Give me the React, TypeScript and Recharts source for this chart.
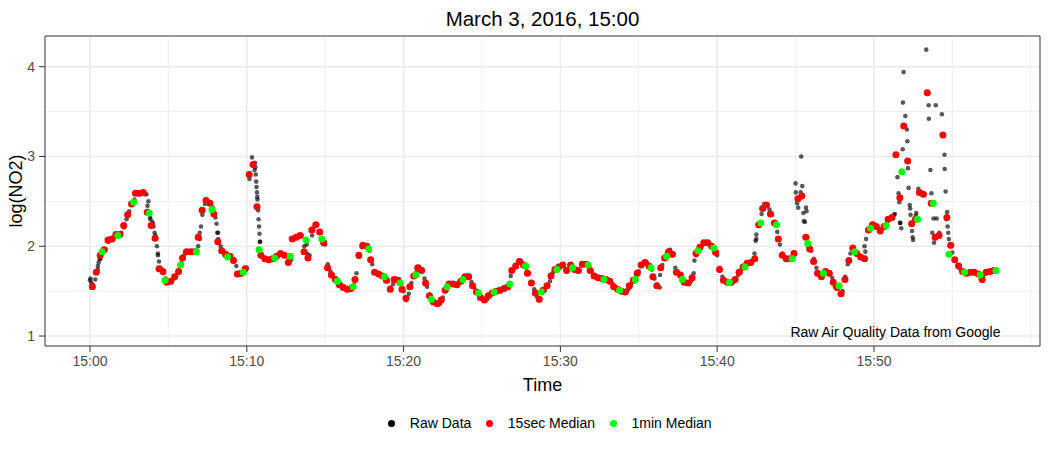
import React from 'react';
import { ScatterChart, Scatter, XAxis, YAxis, ReferenceLine, ReferenceArea, ReferenceDot } from 'recharts';

// ---- data (time in minutes after 15:00, value = log(NO2)) ----
const RAW_START = 0;
const RAW_STEP = 1 / 6; // 10-second samples
const rawValues = [
  1.62, 1.57, 1.63, 1.74, 1.86, 1.95,
  1.97, 2.05, 2.08, 2.08, 2.11, 2.12,
  2.15, 2.21, 2.30, 2.39, 2.46, 2.52,
  2.59, 2.60, 2.60, 2.58, 2.45, 2.32,
  2.25, 2.12, 1.90, 1.76, 1.70, 1.64,
  1.59, 1.60, 1.64, 1.67, 1.71, 1.81,
  1.90, 1.94, 1.94, 1.95, 1.94, 1.95,
  2.15, 2.35, 2.47, 2.51, 2.49, 2.43,
  2.32, 2.15, 2.00, 1.95, 1.92, 1.89,
  1.90, 1.86, 1.78, 1.68, 1.69, 1.72,
  1.76, 2.75, 2.99, 2.85, 2.55, 2.05,
  1.88, 1.86, 1.85, 1.85, 1.86, 1.87,
  1.90, 1.92, 1.91, 1.89, 1.84, 1.85,
  2.08, 2.10, 2.11, 2.12, 2.00, 1.92,
  1.90, 2.12, 2.22, 2.24, 2.17, 2.08,
  2.02, 1.80, 1.72, 1.67, 1.64, 1.60,
  1.57, 1.54, 1.52, 1.51, 1.52, 1.57,
  1.70, 1.88, 1.99, 2.01, 2.01, 1.95,
  1.80, 1.72, 1.70, 1.69, 1.67, 1.66,
  1.61, 1.54, 1.58, 1.64, 1.63, 1.58,
  1.50, 1.40, 1.47, 1.59, 1.66, 1.72,
  1.77, 1.74, 1.64, 1.55, 1.46, 1.40,
  1.37, 1.36, 1.36, 1.43, 1.51, 1.56,
  1.59, 1.58, 1.56, 1.58, 1.61, 1.64,
  1.67, 1.67, 1.60, 1.54, 1.50, 1.46,
  1.43, 1.41, 1.41, 1.45, 1.48, 1.49,
  1.50, 1.51, 1.52, 1.53, 1.56, 1.67,
  1.74, 1.78, 1.84, 1.83, 1.80, 1.76,
  1.70, 1.60, 1.52, 1.44, 1.40, 1.48,
  1.51, 1.55, 1.61, 1.70, 1.74, 1.75,
  1.77, 1.79, 1.74, 1.75, 1.79, 1.77,
  1.73, 1.73, 1.79, 1.81, 1.80, 1.77,
  1.72, 1.68, 1.66, 1.65, 1.64, 1.63,
  1.63, 1.62, 1.58, 1.54, 1.52, 1.51,
  1.49, 1.48, 1.52, 1.57, 1.61, 1.66,
  1.72, 1.78, 1.82, 1.82, 1.79, 1.74,
  1.64, 1.57, 1.54, 1.79, 1.86, 1.90,
  1.96, 1.90, 1.76, 1.71, 1.68, 1.63,
  1.59, 1.59, 1.61, 1.70, 1.90, 1.96,
  2.00, 2.04, 2.05, 2.03, 2.00, 1.96,
  1.90, 1.76, 1.66, 1.61, 1.60, 1.60,
  1.60, 1.63, 1.68, 1.72, 1.76, 1.79,
  1.81, 1.82, 1.85, 2.08, 2.24, 2.36,
  2.47, 2.46, 2.41, 2.35, 2.27, 2.16,
  2.02, 1.92, 1.87, 1.86, 1.86, 1.89,
  2.70, 2.43, 2.60, 2.37, 2.43, 2.00,
  1.95, 1.86, 1.76, 1.68, 1.66, 1.71,
  1.72, 1.71, 1.65, 1.55, 1.53, 1.47,
  1.50, 1.66, 1.80, 1.92, 1.97, 1.94,
  1.91, 1.88, 1.86, 2.08, 2.19, 2.22,
  2.25, 2.22, 2.17, 2.19, 2.23, 2.27,
  2.31, 2.33, 2.36, 2.77, 2.26, 3.08,
  3.45, 2.87, 2.35, 2.07, 2.34, 2.64,
  2.60, 2.58, 4.19, 3.42, 2.59, 2.04,
  2.31, 2.15, 3.47, 3.02, 2.38, 2.00,
  1.93, 1.84, 1.79, 1.75, 1.72, 1.70,
  1.70, 1.71, 1.71, 1.70, 1.68, 1.64,
  1.68, 1.71, 1.72, 1.73, 1.73,
];

// additional raw readings (scattered spikes / steep segments)
const rawExtraTimes = [
  0.03, 0.08, 0.5, 0.55, 0.62, 3.6, 3.72, 3.85, 3.98, 4.05, 4.12, 4.27, 4.33, 4.4,
  6.9, 7.0, 7.08, 8.07, 8.12, 8.18,
  10.52, 10.55, 10.57, 10.6, 10.62, 10.65, 10.68, 10.72, 10.75, 10.78, 10.81, 10.85,
  13.75, 13.82, 36.36, 38.55, 42.38, 42.45, 42.5,
  45.02, 45.1, 45.36, 45.43, 45.53, 45.6, 45.7, 45.75, 49.4, 49.45,
  51.28, 51.57, 51.62, 51.68, 51.74, 51.85, 51.89, 52.1, 52.13, 52.21, 52.28, 52.31,
  52.39, 52.43, 52.47, 52.7, 53.49, 53.6, 53.72, 53.8, 53.94, 54.51, 54.57, 54.64,
  54.7, 54.74, 54.78,
];
const rawExtraValues = [
  1.64, 1.59, 1.78, 1.82, 1.86, 2.58, 2.50, 2.30, 2.27, 2.22, 2.15, 2.00, 1.92, 1.83,
  2.00, 2.08, 2.22, 2.25, 2.15, 2.08,
  2.93, 2.88, 2.80, 2.72, 2.66, 2.60, 2.52, 2.40, 2.30, 2.22, 2.14, 2.05,
  2.06, 2.02, 1.68, 1.84, 1.92, 2.06, 2.13,
  2.60, 2.48, 3.00, 2.67, 2.28, 2.27, 2.39, 2.10, 2.00, 1.94,
  2.35, 2.59, 2.49, 2.26, 2.20, 3.60, 3.94, 3.30, 3.17, 2.65, 2.46, 2.42,
  2.25, 2.17, 2.10, 2.37, 3.57, 2.85, 2.15, 2.31, 3.57, 2.86, 2.61, 2.30,
  2.22, 2.15, 2.08,
];

// 15-second medians
const MED15_START = 0.15;
const MED15_STEP = 0.25;
const med15Values = [
  1.55, 1.71, 1.90, 1.96,
  2.07, 2.08, 2.13, 2.13,
  2.23, 2.35, 2.47, 2.59,
  2.59, 2.60, 2.38, 2.23,
  2.09, 1.75, 1.72, 1.60,
  1.61, 1.66, 1.72, 1.87,
  1.94, 1.94, 1.94, 2.10,
  2.40, 2.51, 2.48, 2.36,
  2.05, 1.95, 1.91, 1.89,
  1.84, 1.69, 1.70, 1.75,
  2.80, 2.91, 2.44, 1.90,
  1.86, 1.85, 1.86, 1.89,
  1.92, 1.90, 1.82, 2.08,
  2.10, 2.12, 1.94, 1.87,
  2.18, 2.24, 2.16, 2.04,
  1.76, 1.68, 1.63, 1.57,
  1.54, 1.52, 1.53, 1.63,
  1.90, 2.01, 2.00, 1.85,
  1.71, 1.69, 1.67, 1.62,
  1.52, 1.63, 1.62, 1.52,
  1.42, 1.55, 1.67, 1.76,
  1.73, 1.59, 1.45, 1.38,
  1.36, 1.40, 1.51, 1.58,
  1.58, 1.57, 1.61, 1.66,
  1.66, 1.56, 1.49, 1.43,
  1.40, 1.45, 1.48, 1.50,
  1.51, 1.53, 1.55, 1.73,
  1.78, 1.83, 1.79, 1.70,
  1.59, 1.48, 1.41, 1.51,
  1.56, 1.67, 1.74, 1.77,
  1.79, 1.73, 1.79, 1.74,
  1.73, 1.80, 1.80, 1.73,
  1.67, 1.65, 1.64, 1.63,
  1.61, 1.55, 1.52, 1.50,
  1.49, 1.56, 1.62, 1.70,
  1.79, 1.82, 1.78, 1.66,
  1.56, 1.76, 1.87, 1.94,
  1.91, 1.71, 1.68, 1.60,
  1.59, 1.65, 1.92, 1.99,
  2.04, 2.04, 2.00, 1.93,
  1.74, 1.62, 1.60, 1.60,
  1.63, 1.71, 1.77, 1.81,
  1.82, 1.86, 2.24, 2.42,
  2.46, 2.36, 2.26, 2.08,
  1.90, 1.86, 1.86, 1.92,
  2.53, 2.56, 2.10, 1.97,
  1.83, 1.70, 1.66, 1.72,
  1.70, 1.60, 1.54, 1.47,
  1.63, 1.84, 1.98, 1.92,
  1.88, 1.86, 2.18, 2.24,
  2.22, 2.17, 2.22, 2.30,
  2.32, 3.02, 2.54, 3.34,
  2.95, 2.25, 2.30, 2.60,
  2.58, 3.71, 2.48, 2.10,
  2.12, 3.24, 2.32, 2.01,
  1.85, 1.78, 1.72, 1.70,
  1.71, 1.71, 1.69, 1.63,
  1.71, 1.72, 1.73,
];

// 1-minute medians
const MED60_START = 0.78;
const MED60_STEP = 1;
const med60Values = [
  1.94, 2.12, 2.49, 2.37, 1.62, 1.79, 1.94, 2.41, 1.88, 1.71,
  1.96, 1.87, 1.89, 2.07, 2.08, 1.61, 1.55, 1.97, 1.66, 1.59,
  1.68, 1.41, 1.55, 1.63, 1.48, 1.49, 1.58, 1.78, 1.49, 1.74,
  1.76, 1.79, 1.63, 1.51, 1.63, 1.76, 1.89, 1.63, 1.95, 1.98,
  1.60, 1.77, 2.26, 2.24, 1.86, 2.03, 1.70, 1.56, 1.94, 2.20,
  2.23, 2.83, 2.30, 2.48, 1.91, 1.71, 1.68, 1.73,
];

const xMajorTicks = [0, 10, 20, 30, 40, 50];
const xMinorTicks = [5, 15, 25, 35, 45, 55, 60];
const yMajorTicks = [1, 2, 3, 4];
const yMinorTicks = [1.5, 2.5, 3.5];
const X_DOMAIN: [number, number] = [-2.87, 60.59];
const Y_DOMAIN: [number, number] = [0.889, 4.342];

const seriesNames = ['Raw Data', '15sec Median', '1min Median'];
const seriesColors = ['#000000', '#FF0000', '#00FF00'];

const TITLE = 'March 3, 2016, 15:00';
const X_TITLE = 'Time';
const Y_TITLE = 'log(NO2)';
const NOTE = 'Raw Air Quality Data from Google';
const NOTE_X = 51.37;
const NOTE_Y = 1.045;

// ---- build tables ----
const rawData = rawValues
  .map((v, i) => ({ t: RAW_START + i * RAW_STEP, v }))
  .concat(rawExtraTimes.map((t, i) => ({ t, v: rawExtraValues[i] })));
const med15Data = med15Values.map((v, i) => ({ t: MED15_START + i * MED15_STEP, v }));
const med60Data = med60Values.map((v, i) => ({ t: MED60_START + i * MED60_STEP, v }));

const FONT = '"Liberation Sans", Arial, Helvetica, sans-serif';
const GRID = '#EBEBEB';

const fmtTime = (m: number) => `15:${String(Math.round(m)).padStart(2, '0')}`;

const dot = (r: number, fill: string, opacity: number) => (props: any) => {
  if (props.cx == null || props.cy == null) return <g />;
  return <circle cx={props.cx} cy={props.cy} r={r} fill={fill} fillOpacity={opacity} stroke="none" />;
};

export default function App() {
  return (
    <div style={{ position: 'absolute', left: 0, top: 0, width: 1050, height: 450, background: '#fff', fontFamily: FONT }}>
      <ScatterChart width={1050} height={450} margin={{ top: 36, right: 10, bottom: 74, left: 0 }}>
        <XAxis
          type="number"
          dataKey="t"
          domain={X_DOMAIN}
          allowDataOverflow
          ticks={xMajorTicks}
          tickFormatter={fmtTime}
          height={30}
          axisLine={false}
          tickLine={{ stroke: '#333333', strokeWidth: 1 }}
          tickSize={6}
          tickMargin={4}
          tick={{ fill: '#4D4D4D', fontSize: 14, fontFamily: FONT }}
        />
        <YAxis
          type="number"
          dataKey="v"
          domain={Y_DOMAIN}
          allowDataOverflow
          ticks={yMajorTicks}
          width={45}
          axisLine={false}
          tickLine={{ stroke: '#333333', strokeWidth: 1 }}
          tickSize={6}
          tickMargin={4}
          tick={{ fill: '#4D4D4D', fontSize: 14, fontFamily: FONT }}
        />
        {xMinorTicks.map((t) => (
          <ReferenceLine key={'xm' + t} x={t} stroke={GRID} strokeWidth={0.8} zIndex={-10} />
        ))}
        {yMinorTicks.map((t) => (
          <ReferenceLine key={'ym' + t} y={t} stroke={GRID} strokeWidth={0.8} zIndex={-10} />
        ))}
        {xMajorTicks.map((t) => (
          <ReferenceLine key={'xM' + t} x={t} stroke={GRID} strokeWidth={1.5} zIndex={-10} />
        ))}
        {yMajorTicks.map((t) => (
          <ReferenceLine key={'yM' + t} y={t} stroke={GRID} strokeWidth={1.5} zIndex={-10} />
        ))}
        <Scatter name={seriesNames[0]} data={rawData} isAnimationActive={false} shape={dot(2.3, seriesColors[0], 0.65)} />
        <Scatter name={seriesNames[1]} data={med15Data} isAnimationActive={false} shape={dot(3.5, seriesColors[1], 1)} />
        <Scatter name={seriesNames[2]} data={med60Data} isAnimationActive={false} shape={dot(3.5, seriesColors[2], 1)} />
        <ReferenceArea
          x1={X_DOMAIN[0]}
          x2={X_DOMAIN[1]}
          y1={Y_DOMAIN[0]}
          y2={Y_DOMAIN[1]}
          fill="none"
          fillOpacity={0}
          stroke="#333333"
          strokeWidth={1}
          ifOverflow="visible"
        />
        <ReferenceDot
          x={NOTE_X}
          y={NOTE_Y}
          r={0}
          fill="none"
          stroke="none"
          ifOverflow="visible"
          label={{ value: NOTE, position: 'center', fill: '#000000', fontSize: 14, fontFamily: FONT }}
        />
      </ScatterChart>
      <svg width={1050} height={450} style={{ position: 'absolute', left: 0, top: 0, pointerEvents: 'none' }}>
        <text x={542.5} y={26} textAnchor="middle" fontSize={20.5} fill="#000" fontFamily={FONT}>{TITLE}</text>
        <text x={542.5} y={391} textAnchor="middle" fontSize={18} fill="#000" fontFamily={FONT}>{X_TITLE}</text>
        <text transform="translate(22,191) rotate(-90)" textAnchor="middle" fontSize={18} fill="#000" fontFamily={FONT}>{Y_TITLE}</text>
      </svg>
      <div
        style={{
          position: 'absolute',
          left: 0,
          top: 414,
          width: 1100,
          height: 19,
          display: 'flex',
          alignItems: 'center',
          justifyContent: 'center',
          fontSize: 14,
          lineHeight: '19px',
          color: '#000',
          fontFamily: FONT,
        }}
      >
        {seriesNames.map((n, i) => (
          <div key={n} style={{ display: 'flex', alignItems: 'center', marginRight: i < seriesNames.length - 1 ? 15 : 0 }}>
            <span style={{ width: 7, height: 7, borderRadius: '50%', background: seriesColors[i], display: 'inline-block', marginRight: 14.5 }} />
            <span>{n}</span>
          </div>
        ))}
      </div>
    </div>
  );
}
